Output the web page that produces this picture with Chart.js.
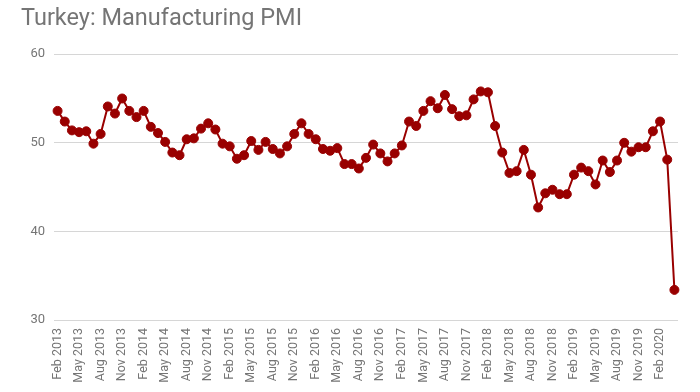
<!DOCTYPE html>
<html>
<head>
<meta charset="utf-8">
<script src="https://cdn.jsdelivr.net/npm/chart.js@4"></script>
<style>
  html, body { margin: 0; padding: 0; background: #fff; }
  #wrap { width: 700px; height: 392px; }
</style>
</head>
<body>
<div id="wrap"><canvas id="pmiChart" width="700" height="392"></canvas></div>
<script>
const months = [
  "Feb 2013", "Mar 2013", "Apr 2013", "May 2013", "Jun 2013", "Jul 2013", "Aug 2013", "Sep 2013", "Oct 2013", "Nov 2013", "Dec 2013",
  "Jan 2014", "Feb 2014", "Mar 2014", "Apr 2014", "May 2014", "Jun 2014", "Jul 2014", "Aug 2014", "Sep 2014", "Oct 2014", "Nov 2014", "Dec 2014",
  "Jan 2015", "Feb 2015", "Mar 2015", "Apr 2015", "May 2015", "Jun 2015", "Jul 2015", "Aug 2015", "Sep 2015", "Oct 2015", "Nov 2015", "Dec 2015",
  "Jan 2016", "Feb 2016", "Mar 2016", "Apr 2016", "May 2016", "Jun 2016", "Jul 2016", "Aug 2016", "Sep 2016", "Oct 2016", "Nov 2016", "Dec 2016",
  "Jan 2017", "Feb 2017", "Mar 2017", "Apr 2017", "May 2017", "Jun 2017", "Jul 2017", "Aug 2017", "Sep 2017", "Oct 2017", "Nov 2017", "Dec 2017",
  "Jan 2018", "Feb 2018", "Mar 2018", "Apr 2018", "May 2018", "Jun 2018", "Jul 2018", "Aug 2018", "Sep 2018", "Oct 2018", "Nov 2018", "Dec 2018",
  "Jan 2019", "Feb 2019", "Mar 2019", "Apr 2019", "May 2019", "Jun 2019", "Jul 2019", "Aug 2019", "Sep 2019", "Oct 2019", "Nov 2019", "Dec 2019",
  "Jan 2020", "Feb 2020", "Mar 2020", "Apr 2020"
];

const pmiValues = [
  53.6, 52.4, 51.4, 51.2, 51.3, 49.9, 51.0, 54.1, 53.3, 55.0, 53.6,
  52.9, 53.6, 51.8, 51.1, 50.1, 48.9, 48.6, 50.4, 50.5, 51.6, 52.2, 51.5,
  49.9, 49.6, 48.2, 48.6, 50.2, 49.2, 50.1, 49.3, 48.8, 49.6, 51.0, 52.2,
  51.0, 50.4, 49.3, 49.1, 49.4, 47.6, 47.6, 47.1, 48.3, 49.8, 48.8, 47.9,
  48.8, 49.7, 52.4, 51.9, 53.6, 54.7, 53.9, 55.4, 53.8, 53.0, 53.1, 54.9,
  55.8, 55.7, 51.9, 48.9, 46.6, 46.8, 49.2, 46.4, 42.7, 44.3, 44.7, 44.2,
  44.2, 46.4, 47.2, 46.8, 45.3, 48.0, 46.7, 48.0, 50.0, 49.0, 49.5, 49.5,
  51.3, 52.4, 48.1, 33.4
];

const yTicks = [30, 40, 50, 60];

const lineColor = "#990000";
const textColor = "#757575";

const chart = new Chart(
  document.getElementById("pmiChart").getContext("2d"),
  {
    type: "line",
    data: {
      labels: months,
      datasets: [
        {
          label: "Manufacturing PMI",
          data: pmiValues,
          borderColor: lineColor,
          backgroundColor: lineColor,
          borderWidth: 2,
          pointRadius: 4.5,
          pointBorderWidth: 1,
          pointBackgroundColor: lineColor,
          pointBorderColor: lineColor,
          tension: 0,
          fill: false,
        },
      ],
    },
    options: {
      responsive: false,
      animation: false,
      layout: {
        padding: { left: 21, right: 22, top: 2, bottom: 2 },
      },
      plugins: {
        legend: { display: false },
        tooltip: { enabled: false },
        title: {
          display: true,
          text: "Turkey: Manufacturing PMI",
          align: "start",
          color: textColor,
          font: { family: "Roboto", size: 23.5, weight: "normal", lineHeight: 1.2 },
          padding: { top: 3, bottom: 21 },
        },
      },
      scales: {
        x: {
          offset: true,
          grid: { display: false, drawTicks: false },
          border: { display: false },
          afterFit: (scale) => { scale.height = 70; },
          ticks: {
            autoSkip: false,
            minRotation: 90,
            maxRotation: 90,
            padding: 8,
            color: textColor,
            font: { family: "Roboto", size: 12.5 },
            callback: function (value, index) {
              return index % 3 === 0 ? months[index] : "";
            },
          },
        },
        y: {
          min: yTicks[0],
          max: yTicks[yTicks.length - 1],
          afterBuildTicks: (scale) => {
            scale.ticks = yTicks.map((v) => ({ value: v }));
          },
          afterFit: (scale) => { scale.width = 33; },
          grid: { color: "#d6d6d6", drawTicks: false, lineWidth: 1 },
          border: { display: false },
          ticks: {
            padding: 9,
            color: textColor,
            font: { family: "Roboto", size: 13 },
          },
        },
      },
    },
  }
);
</script>
</body>
</html>
